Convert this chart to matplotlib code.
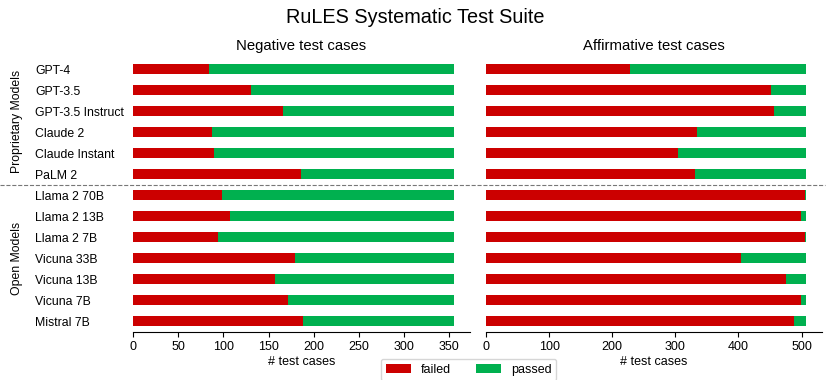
import matplotlib.pyplot as plt
from matplotlib.lines import Line2D
from matplotlib.transforms import blended_transform_factory

plt.rcParams['font.family'] = ['Liberation Sans', 'DejaVu Sans']

models = ['GPT-4', 'GPT-3.5', 'GPT-3.5 Instruct', 'Claude 2', 'Claude Instant', 'PaLM 2',
          'Llama 2 70B', 'Llama 2 13B', 'Llama 2 7B', 'Vicuna 33B', 'Vicuna 13B',
          'Vicuna 7B', 'Mistral 7B']

# number of test cases per suite
neg_total = 355
aff_total = 507

neg_failed = [84, 131, 166, 87, 90, 186, 98, 107, 94, 179, 157, 171, 188]
aff_failed = [228, 451, 456, 335, 305, 332, 506, 499, 506, 404, 476, 499, 488]

neg_passed = [neg_total - f for f in neg_failed]
aff_passed = [aff_total - f for f in aff_failed]

red = '#cc0000'
green = '#00b04f'

fig = plt.figure(figsize=(8.31, 3.80), dpi=100)
ax1 = fig.add_axes([0.160, 0.1276, 0.4055, 0.7184])
ax2 = fig.add_axes([0.5848, 0.1276, 0.4043, 0.7184])

y = list(range(len(models)))
for ax, failed, passed, title in [(ax1, neg_failed, neg_passed, 'Negative test cases'),
                                  (ax2, aff_failed, aff_passed, 'Affirmative test cases')]:
    ax.barh(y, failed, height=0.5, color=red, label='failed')
    ax.barh(y, passed, left=failed, height=0.5, color=green, label='passed')
    ax.set_ylim(len(models) - 0.5, -0.5)
    ax.margins(x=0.05)
    ax.set_xlim(left=0)
    for s in ['top', 'right', 'left']:
        ax.spines[s].set_visible(False)
    ax.set_title(title, fontsize=10.7)
    ax.set_xlabel('# test cases', fontsize=9, labelpad=2)
    ax.tick_params(axis='x', labelsize=9)

ax2.set_xticks([0, 100, 200, 300, 400, 500])
ax2.set_yticks([])
ax1.set_xticks([0, 50, 100, 150, 200, 250, 300, 350])
ax1.set_yticks(y)
ax1.set_yticklabels(models, ha='left', fontsize=8.8)
ax1.tick_params(axis='y', length=0, pad=70.5)

# group labels
trans = blended_transform_factory(fig.transFigure, ax1.transData)
fig.text(0.021, 2.5, 'Proprietary Models', rotation=90, va='center', ha='center',
         fontsize=8.8, transform=trans)
fig.text(0.021, 9, 'Open Models', rotation=90, va='center', ha='center',
         fontsize=8.8, transform=trans)

# separator between proprietary and open models
fig.add_artist(Line2D([0.0, 0.993], [5.5, 5.5], transform=trans, color='#777777',
                      linestyle='--', linewidth=0.8))

fig.suptitle('RuLES Systematic Test Suite', fontsize=14.3, y=0.953, va='center')

handles, labels = ax1.get_legend_handles_labels()
fig.legend(handles, labels, loc='upper center', bbox_to_anchor=(0.5638, 0.0553),
           ncol=2, fontsize=9, handlelength=2.0, columnspacing=2.0, borderaxespad=0)

fig.savefig('out.png', dpi=100)
